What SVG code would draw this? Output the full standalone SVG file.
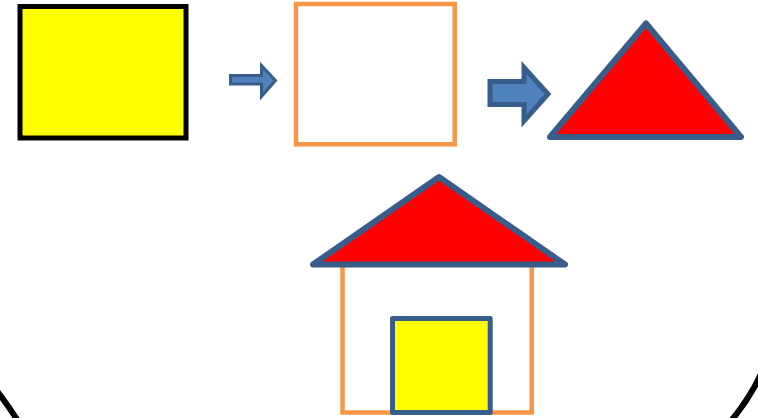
<svg xmlns="http://www.w3.org/2000/svg" width="758" height="418" viewBox="0 0 758 418">
<style>
.blue{stroke:#385D8A;stroke-linejoin:round}
.arrow{fill:#4F81BD;stroke:#385D8A;stroke-linejoin:miter}
.tri{fill:#FF0000;stroke:#385D8A;stroke-width:6;stroke-linejoin:round}
.orange{fill:#FFFFFF;stroke:#F79646;stroke-width:4.5}
.yellow{fill:#FFFF00}
</style>
<rect width="758" height="418" fill="#FFFFFF"/>
<g id="frame" fill="none" stroke="#000000" stroke-width="6">
<path d="M -3,391 Q 7,404 18,421"/>
<path d="M 761,374 Q 750,398 731,421"/>
</g>
<g id="yellow-rect"><rect x="20" y="6.5" width="166" height="131.5" class="yellow" stroke="#000000" stroke-width="5"/></g>
<g id="connectors">
<polygon class="arrow" stroke-width="3" points="230.5,75.5 261.5,75.5 261.5,65.5 275.5,80.5 261.5,96.5 261.5,84 230.5,84"/>
<polygon class="arrow" stroke-width="5" points="490,81.5 524,81.5 524,67.5 548,94 524,121 524,104.5 490,104.5"/>
</g>
<g id="orange-rect"><rect x="296" y="4" width="158.7" height="140.3" class="orange"/></g>
<g id="triangle"><polygon class="tri" points="550,137 646,23.5 741,137"/></g>
<g id="house">
<rect id="walls" x="342.5" y="262" width="189.2" height="150.5" class="orange"/>
<polygon id="roof" class="tri" points="313,264.5 439,177 565,264.5"/>
<rect id="door" x="392.5" y="318.5" width="97.7" height="94" class="yellow blue" stroke-width="5"/>
</g>
</svg>
